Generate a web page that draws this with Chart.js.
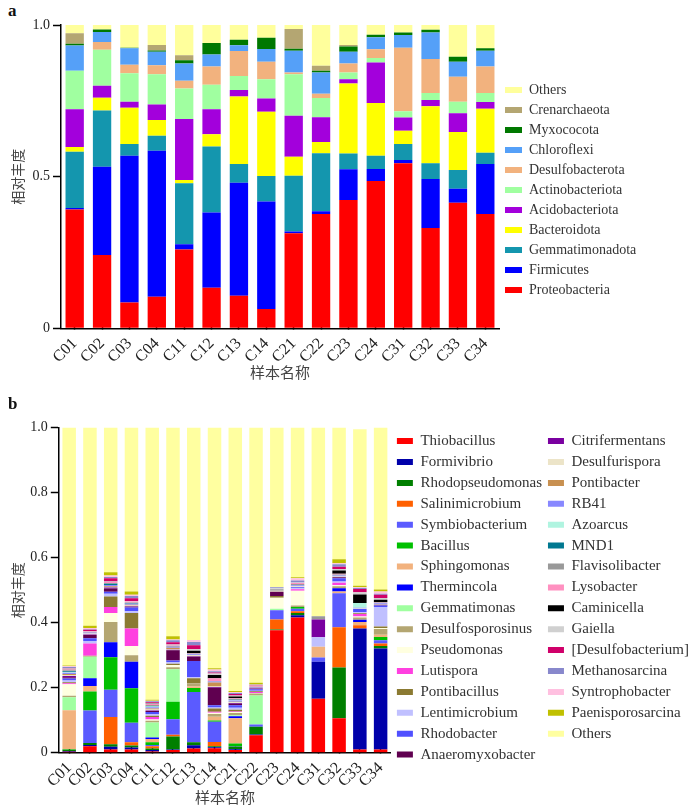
<!DOCTYPE html>
<html>
<head>
<meta charset="utf-8">
<script src="https://cdn.jsdelivr.net/npm/chart.js@4.4.1/dist/chart.umd.min.js"></script>
<style>
  html, body { margin: 0; padding: 0; background: #fff; }
  body { width: 700px; height: 806px; position: relative; overflow: hidden; }
  canvas { position: absolute; left: 0; }
  #chartA { top: 0; }
  #chartB { top: 395px; }
  .panel { position: absolute; left: 8px; font: bold 17px 'Liberation Serif', serif; color: #111; }
</style>
</head>
<body>
<div class="panel" style="top: 1px">a</div>
<canvas id="chartA" width="700" height="395"></canvas>
<div class="panel" style="top: 394px">b</div>
<canvas id="chartB" width="700" height="411"></canvas>
<script>
const samples = ['C01', 'C02', 'C03', 'C04', 'C11', 'C12', 'C13', 'C14', 'C21', 'C22', 'C23', 'C24', 'C31', 'C32', 'C33', 'C34']
const yTicksA = [0, 0.5, 1.0]
const yLabelsA = ['0', '0.5', '1.0']
const yTicksB = [0, 0.2, 0.4, 0.6, 0.8, 1.0]
const yLabelsB = ['0', '0.2', '0.4', '0.6', '0.8', '1.0']

// a: phylum level
const proteobacteria = [0.392, 0.242, 0.085, 0.104, 0.260, 0.134, 0.107, 0.064, 0.313, 0.377, 0.423, 0.486, 0.544, 0.331, 0.414, 0.377]
const firmicutes = [0.005, 0.291, 0.484, 0.481, 0.017, 0.248, 0.373, 0.354, 0.006, 0.009, 0.101, 0.039, 0.011, 0.161, 0.046, 0.165]
const gemmatimonadota = [0.185, 0.185, 0.039, 0.050, 0.201, 0.217, 0.062, 0.084, 0.184, 0.191, 0.052, 0.044, 0.053, 0.052, 0.062, 0.037]
const bacteroidota = [0.016, 0.042, 0.119, 0.052, 0.011, 0.041, 0.222, 0.212, 0.063, 0.037, 0.231, 0.174, 0.043, 0.188, 0.125, 0.145]
const acidobacteriota = [0.124, 0.040, 0.020, 0.051, 0.201, 0.082, 0.022, 0.044, 0.135, 0.082, 0.014, 0.133, 0.044, 0.021, 0.062, 0.022]
const actinobacteriota = [0.127, 0.118, 0.094, 0.100, 0.101, 0.081, 0.046, 0.063, 0.137, 0.063, 0.022, 0.015, 0.021, 0.023, 0.038, 0.030]
const desulfobacterota = [0, 0.026, 0.028, 0.029, 0.025, 0.060, 0.082, 0.058, 0.005, 0.014, 0.030, 0.029, 0.209, 0.112, 0.082, 0.087]
const chloroflexi = [0.083, 0.033, 0.054, 0.045, 0.057, 0.040, 0.019, 0.042, 0.072, 0.070, 0.039, 0.040, 0.042, 0.087, 0.050, 0.052]
const myxococota = [0.006, 0.008, 0.002, 0.004, 0.011, 0.038, 0.018, 0.037, 0.007, 0.006, 0.017, 0.008, 0.008, 0.009, 0.016, 0.008]
const crenarchaeota = [0.035, 0, 0, 0.018, 0.016, 0, 0, 0, 0.065, 0.017, 0.005, 0, 0, 0, 0, 0]
const phylumOthers = [0.027, 0.015, 0.075, 0.066, 0.100, 0.059, 0.049, 0.042, 0.013, 0.134, 0.066, 0.032, 0.025, 0.016, 0.105, 0.077]

// b: genus level
const thiobacillus = [0.003, 0.020, 0.010, 0.010, 0.004, 0.008, 0.013, 0.014, 0.008, 0.054, 0.377, 0.416, 0.166, 0.106, 0.010, 0.010]
const formivibrio = [0.002, 0.004, 0.008, 0.006, 0.004, 0.002, 0.010, 0.003, 0.003, 0.002, 0, 0.007, 0.114, 0, 0.372, 0.311]
const rhodopseudomonas = [0.004, 0.006, 0.008, 0.006, 0.005, 0.040, 0.009, 0.003, 0.008, 0.024, 0.002, 0.007, 0, 0.156, 0, 0.007]
const salinimicrobium = [0, 0, 0.084, 0.010, 0.007, 0.005, 0, 0.013, 0, 0, 0.031, 0.005, 0, 0.124, 0.010, 0.008]
const symbiobacterium = [0, 0.100, 0.084, 0.060, 0.004, 0.048, 0.155, 0.062, 0.002, 0.007, 0.028, 0.008, 0.013, 0.105, 0, 0.010]
const bacillus = [0.002, 0.058, 0.100, 0.106, 0.008, 0.054, 0.012, 0.004, 0.007, 0, 0, 0.005, 0, 0, 0, 0.010]
const sphingomonas = [0.120, 0.017, 0, 0, 0.010, 0, 0.005, 0.012, 0.078, 0, 0, 0, 0.033, 0.005, 0.010, 0.007]
const thermincola = [0, 0.024, 0.046, 0.082, 0.005, 0, 0, 0, 0.006, 0, 0, 0, 0, 0.010, 0.007, 0]
const gemmatimonas = [0.040, 0.066, 0, 0, 0.046, 0.100, 0, 0, 0.003, 0.089, 0.005, 0, 0, 0, 0, 0]
const desulfosporosinus = [0.004, 0.003, 0.062, 0.020, 0.005, 0.006, 0.010, 0.008, 0.007, 0.006, 0, 0.005, 0, 0.006, 0.007, 0.018]
const pseudomonas = [0.036, 0, 0.028, 0.028, 0.004, 0.007, 0, 0.004, 0.003, 0.002, 0.034, 0.045, 0, 0.003, 0.003, 0.003]
const lutispora = [0.003, 0.038, 0.018, 0.054, 0.008, 0, 0, 0.003, 0.002, 0.003, 0, 0.005, 0, 0.008, 0.008, 0]
const pontibacillus = [0.003, 0, 0.033, 0.048, 0.004, 0.004, 0.015, 0.010, 0.005, 0.002, 0.005, 0, 0, 0, 0.002, 0.004]
const lentimicrobium = [0.005, 0.008, 0.008, 0.005, 0.005, 0.005, 0.003, 0.003, 0.006, 0.002, 0, 0.003, 0.029, 0.004, 0.003, 0.060]
const rhodobacter = [0.006, 0.008, 0.006, 0.012, 0.006, 0.005, 0.050, 0.007, 0.008, 0.004, 0, 0.003, 0, 0.010, 0.010, 0.005]
const anaeromyxobacter = [0.004, 0.010, 0.010, 0.002, 0.003, 0.031, 0.013, 0.054, 0.005, 0.002, 0.013, 0, 0, 0.003, 0, 0.002]
const citrifermentans = [0.004, 0.002, 0.003, 0.002, 0.002, 0.002, 0.002, 0.002, 0.002, 0.001, 0, 0, 0.055, 0, 0, 0]
const desulfurispora = [0.003, 0.003, 0.002, 0.002, 0.003, 0.002, 0.004, 0.002, 0.002, 0.001, 0.003, 0.003, 0, 0.002, 0.002, 0.002]
const pontibacter = [0.003, 0, 0.002, 0.002, 0.003, 0.004, 0, 0.012, 0.002, 0.001, 0, 0, 0, 0, 0, 0]
const rb41 = [0.004, 0.002, 0.004, 0.003, 0.004, 0.003, 0.002, 0.003, 0.004, 0.002, 0, 0.003, 0, 0.003, 0.002, 0.003]
const azoarcus = [0.002, 0, 0, 0, 0.002, 0, 0, 0, 0.001, 0, 0, 0, 0, 0, 0.015, 0]
const mnd1 = [0.003, 0.001, 0.004, 0.002, 0.002, 0, 0, 0, 0.001, 0, 0, 0, 0, 0, 0, 0]
const flavisolibacter = [0.003, 0, 0.002, 0.002, 0.003, 0.003, 0.002, 0.002, 0.003, 0.001, 0.005, 0.004, 0.010, 0.003, 0, 0.002]
const lysobacter = [0.002, 0.002, 0.003, 0.003, 0.003, 0.002, 0.002, 0.008, 0.002, 0.003, 0, 0.003, 0, 0.003, 0, 0.002]
const caminicella = [0.001, 0, 0, 0, 0.001, 0, 0.007, 0.010, 0.005, 0, 0, 0, 0, 0.010, 0.026, 0.007]
const gaiella = [0.002, 0.002, 0.002, 0.002, 0.002, 0.002, 0.004, 0.005, 0.003, 0.001, 0.003, 0.002, 0, 0.004, 0.007, 0.005]
const desulfobacterium = [0.002, 0.004, 0.010, 0.008, 0.002, 0.007, 0.013, 0.003, 0.005, 0.001, 0, 0, 0, 0.007, 0.010, 0.010]
const methanosarcina = [0.003, 0.002, 0.004, 0.007, 0.003, 0.006, 0.010, 0.004, 0.003, 0.001, 0.003, 0.006, 0, 0.008, 0.003, 0.003]
const syntrophobacter = [0.002, 0.004, 0.004, 0.004, 0.002, 0.002, 0.006, 0.005, 0.002, 0.001, 0, 0.007, 0, 0.003, 0.002, 0.007]
const paenisporosarcina = [0.002, 0.007, 0.010, 0.010, 0.003, 0.010, 0, 0.004, 0.004, 0.005, 0, 0.003, 0, 0.012, 0.005, 0.006]
const genusOthers = [0.735, 0.612, 0.448, 0.507, 0.841, 0.645, 0.656, 0.743, 0.813, 0.788, 0.494, 0.463, 0.583, 0.408, 0.481, 0.501]

const phylumSeries = [
  ['Proteobacteria', proteobacteria, '#ff0000'],
  ['Firmicutes', firmicutes, '#0000ff'],
  ['Gemmatimonadota', gemmatimonadota, '#1496ae'],
  ['Bacteroidota', bacteroidota, '#ffff00'],
  ['Acidobacteriota', acidobacteriota, '#a300dc'],
  ['Actinobacteriota', actinobacteriota, '#a0ffa0'],
  ['Desulfobacterota', desulfobacterota, '#f2b27e'],
  ['Chloroflexi', chloroflexi, '#55a0f8'],
  ['Myxococota', myxococota, '#007800'],
  ['Crenarchaeota', crenarchaeota, '#b4a672'],
  ['Others', phylumOthers, '#ffff9c']
]

const genusSeries = [
  ['Thiobacillus', thiobacillus, '#ff0000'],
  ['Formivibrio', formivibrio, '#0000aa'],
  ['Rhodopseudomonas', rhodopseudomonas, '#007f00'],
  ['Salinimicrobium', salinimicrobium, '#ff6000'],
  ['Symbiobacterium', symbiobacterium, '#5b5bff'],
  ['Bacillus', bacillus, '#00c000'],
  ['Sphingomonas', sphingomonas, '#f2b27e'],
  ['Thermincola', thermincola, '#0000ff'],
  ['Gemmatimonas', gemmatimonas, '#a0ffa0'],
  ['Desulfosporosinus', desulfosporosinus, '#b4a672'],
  ['Pseudomonas', pseudomonas, '#ffffe0'],
  ['Lutispora', lutispora, '#ff40e0'],
  ['Pontibacillus', pontibacillus, '#8b7a32'],
  ['Lentimicrobium', lentimicrobium, '#c0c0ff'],
  ['Rhodobacter', rhodobacter, '#5050ff'],
  ['Anaeromyxobacter', anaeromyxobacter, '#600050'],
  ['Citrifermentans', citrifermentans, '#7a00a0'],
  ['Desulfurispora', desulfurispora, '#ece4c8'],
  ['Pontibacter', pontibacter, '#c89050'],
  ['RB41', rb41, '#8888ff'],
  ['Azoarcus', azoarcus, '#b0f4e0'],
  ['MND1', mnd1, '#007890'],
  ['Flavisolibacter', flavisolibacter, '#999999'],
  ['Lysobacter', lysobacter, '#ff90c0'],
  ['Caminicella', caminicella, '#000000'],
  ['Gaiella', gaiella, '#d0d0d0'],
  ['[Desulfobacterium]', desulfobacterium, '#d0006a'],
  ['Methanosarcina', methanosarcina, '#8888cc'],
  ['Syntrophobacter', syntrophobacter, '#ffc0e0'],
  ['Paenisporosarcina', paenisporosarcina, '#c0c000'],
  ['Others', genusOthers, '#ffffa0']
]

const serif = "'Liberation Serif', 'Times New Roman', serif"
const cjk = "'Noto Sans CJK SC', sans-serif"

const toDatasets = (series, barPercentage) => series.map(([label, data, color]) => ({
  label,
  data,
  backgroundColor: color,
  borderWidth: 0,
  barPercentage,
  categoryPercentage: 1
}))

// width Chart.js will give a right-hand legend, so the plot keeps its place
const legendWidth = (columns, size, boxWidth, padding) => {
  const ctx = document.createElement('canvas').getContext('2d')
  ctx.font = `${size}px ${serif}`
  const widths = columns.map(col => Math.max(...col.map(t => boxWidth + size / 2 + ctx.measureText(t).width)))
  return padding + widths.reduce((a, b) => a + b, 0) + padding * (widths.length - 1) + 10
}

// shared look of both panels, geometry is passed in
const buildOptions = ({ ticks, tickLabels, yWidth, xHeight, xTickPad, padding, xTitlePad, legend }) => ({
  responsive: false,
  animation: false,
  devicePixelRatio: 1,
  layout: { padding },
  plugins: {
    tooltip: { enabled: false },
    legend: {
      position: 'right',
      fullSize: true,
      align: 'start',
      maxWidth: 600,
      ...legend,
      labels: { color: '#333', ...legend.labels }
    }
  },
  scales: {
    x: {
      stacked: true,
      afterFit: scale => { scale.height = xHeight },
      border: { color: '#000', width: 1.5 },
      grid: { drawOnChartArea: false, offset: false, tickLength: -6, tickColor: '#000', tickWidth: 1.5 },
      ticks: { autoSkip: false, minRotation: 45, maxRotation: 45, padding: xTickPad, color: '#222', font: { family: serif, size: 16 } },
      title: { display: true, text: '样本名称', color: '#444', font: { family: cjk, size: 15 }, padding: { top: 0, bottom: xTitlePad } }
    },
    y: {
      stacked: true,
      min: 0,
      max: 1,
      afterFit: scale => { scale.width = yWidth },
      afterBuildTicks: scale => { scale.ticks = ticks.map(value => ({ value })) },
      border: { color: '#000', width: 1.5 },
      grid: { drawOnChartArea: false, tickLength: 8, tickColor: '#000', tickWidth: 1.5 },
      ticks: { padding: 3, color: '#222', font: { family: serif, size: 14 }, callback: (v, i) => tickLabels[i] },
      title: { display: true, text: '相对丰度', color: '#444', font: { family: cjk, size: 14 }, padding: { top: 9.6, bottom: 0 } }
    }
  }
})

const legendA = legendWidth([phylumSeries.map(s => s[0])], 14, 17, 6)
new Chart('chartA', {
  type: 'bar',
  data: { labels: samples, datasets: toDatasets(phylumSeries, 0.67) },
  options: buildOptions({
    ticks: yTicksA,
    tickLabels: yLabelsA,
    yWidth: 61,
    xHeight: 42,
    xTickPad: 12,
    padding: { top: 25, bottom: 24.7, left: 0, right: 700 - 499 - legendA },
    xTitlePad: -10.7,
    legend: {
      reverse: true,
      // empty title only pushes the first entry down to the reference height
      title: { display: true, text: '', font: { size: 10 }, padding: { top: 40, bottom: 0 } },
      labels: { boxWidth: 17, boxHeight: 6, padding: 6, font: { family: serif, size: 14 } }
    }
  })
})

const genusNames = genusSeries.map(s => s[0])
const legendB = legendWidth([genusNames.slice(0, 16), genusNames.slice(16)], 15, 16, 5.9)
new Chart('chartB', {
  type: 'bar',
  data: { labels: samples, datasets: toDatasets(genusSeries, 0.65) },
  options: buildOptions({
    ticks: yTicksB,
    tickLabels: yLabelsB,
    yWidth: 58.8,
    xHeight: 35,
    xTickPad: 12,
    padding: { top: 32.7, bottom: 18.3, left: 0, right: 700 - 391 - legendB },
    xTitlePad: -18.3,
    legend: {
      reverse: false,
      labels: { boxWidth: 16, boxHeight: 6, padding: 5.9, font: { family: serif, size: 15 } }
    }
  })
})
</script>
</body>
</html>
